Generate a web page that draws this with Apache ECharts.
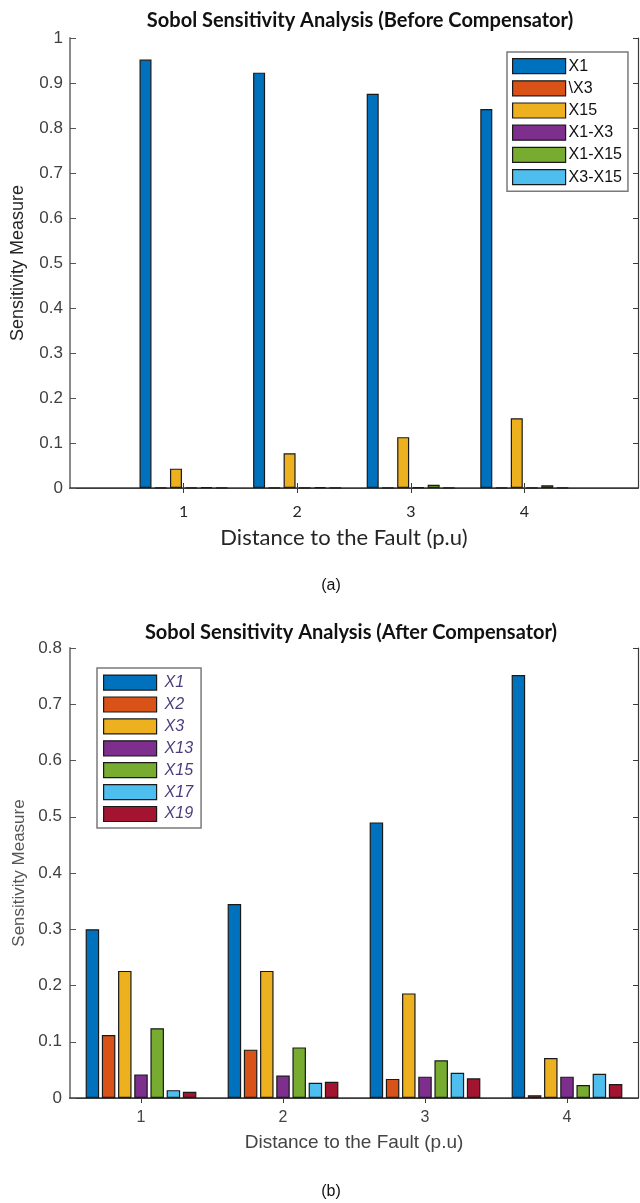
<!DOCTYPE html>
<html><head><meta charset="utf-8">
<script src="https://cdn.jsdelivr.net/npm/echarts@6/dist/echarts.min.js"></script>
<style>html,body{margin:0;padding:0;background:#fff}#c{width:640px;height:1203px}</style>
</head><body><div id="c"></div>
<script>
// ---- Chart (a): Before Compensator ----
const topCats = ['0', '1', '2', '3', '4', '5'];
const topNames = ['X1', '\\X3', 'X15', 'X1-X3', 'X1-X15', 'X3-X15'];
const topX1    = ['-', 0.952, 0.923, 0.876, 0.842, '-'];
const topX3    = ['-', 0.001, 0.001, 0.001, 0.001, '-'];
const topX15   = ['-', 0.043, 0.077, 0.113, 0.155, '-'];
const topX1X3  = ['-', 0.001, 0.001, 0.002, 0.001, '-'];
const topX1X15 = ['-', 0.002, 0.002, 0.007, 0.006, '-'];
const topX3X15 = ['-', 0.001, 0.001, 0.001, 0.001, '-'];
const topTicksShown = ['1', '2', '3', '4'];

// ---- Chart (b): After Compensator ----
const botCats = ['1', '2', '3', '4'];
const botNames = ['X1', 'X2', 'X3', 'X13', 'X15', 'X17', 'X19'];
const botX1  = [0.300, 0.345, 0.490, 0.752];
const botX2  = [0.112, 0.086, 0.034, 0.005];
const botX3  = [0.226, 0.226, 0.186, 0.071];
const botX13 = [0.042, 0.040, 0.038, 0.038];
const botX15 = [0.124, 0.090, 0.067, 0.023];
const botX17 = [0.014, 0.027, 0.045, 0.043];
const botX19 = [0.011, 0.029, 0.035, 0.025];

const topColors = ['#0072BD', '#D95319', '#EDB120', '#7E2F8E', '#77AC30', '#4DBEEE'];
const botColors = ['#0072BD', '#D95319', '#EDB120', '#7E2F8E', '#77AC30', '#4DBEEE', '#A2142F'];

const ARIAL = '"Liberation Sans", Arial, sans-serif';
const CAL = 'Lato, "Open Sans", sans-serif';
const BORDER = '#1a1a1a';

const topData = [topX1, topX3, topX15, topX1X3, topX1X15, topX3X15];
const botData = [botX1, botX2, botX3, botX13, botX15, botX17, botX19];

const chart = echarts.init(document.getElementById('c'), null, {renderer: 'canvas'});

const series = [];
topNames.forEach((n, i) => series.push({
  type: 'bar', name: n, xAxisIndex: 0, yAxisIndex: 0, data: topData[i],
  barWidth: 12, barGap: '27%',
  itemStyle: {color: topColors[i], borderColor: BORDER, borderWidth: 1.2},
  emphasis: {disabled: true}
}));
botNames.forEach((n, i) => series.push({
  type: 'bar', name: n, xAxisIndex: 2, yAxisIndex: 2, data: botData[i],
  barWidth: 13.5, barGap: '20%',
  itemStyle: {color: botColors[i], borderColor: BORDER, borderWidth: 1.2},
  emphasis: {disabled: true}
}));

const shownTop = (idx) => topTicksShown.indexOf(topCats[idx]) >= 0;

const option = {
  animation: false,
  backgroundColor: '#fff',
  title: [
    {text: 'Sobol Sensitivity Analysis (Before Compensator)', left: 360, top: 11, textAlign: 'center', padding: 0,
     textStyle: {fontFamily: CAL, fontWeight: 'bold', fontSize: 20, color: '#111'}},
    {text: '(a)', left: 331, top: 578, textAlign: 'center', padding: 0,
     textStyle: {fontFamily: ARIAL, fontWeight: 'normal', fontSize: 16, color: '#111'}},
    {text: 'Sobol Sensitivity Analysis (After Compensator)', left: 351, top: 623, textAlign: 'center', padding: 0,
     textStyle: {fontFamily: CAL, fontWeight: 'bold', fontSize: 20, color: '#111'}},
    {text: '(b)', left: 331, top: 1184, textAlign: 'center', padding: 0,
     textStyle: {fontFamily: ARIAL, fontWeight: 'normal', fontSize: 16, color: '#111'}}
  ],
  legend: [
    {orient: 'vertical', left: 507, top: 52, padding: [6, 6, 6, 5], itemWidth: 53, itemHeight: 15, itemGap: 6,
     icon: 'rect', backgroundColor: '#fff', borderColor: '#7a7a7a', borderWidth: 1.5, selectedMode: false,
     textStyle: {fontFamily: ARIAL, fontSize: 16, color: '#111', padding: [0, 0, 0, -2]},
     data: topNames.map((n, i) => ({name: n, itemStyle: {color: topColors[i], borderColor: BORDER, borderWidth: 1.2}}))},
    {orient: 'vertical', left: 97, top: 668, padding: [6.5, 8, 6, 6], itemWidth: 53, itemHeight: 15, itemGap: 5.7,
     icon: 'rect', backgroundColor: '#fff', borderColor: '#7a7a7a', borderWidth: 1.5, selectedMode: false,
     textStyle: {fontFamily: ARIAL, fontSize: 16, fontStyle: 'italic', color: '#4b3b7c', padding: [0, 0, 0, 3]},
     data: botNames.map((n, i) => ({name: n, itemStyle: {color: botColors[i], borderColor: BORDER, borderWidth: 1.2}}))}
  ],
  grid: [
    {left: 70, right: 2, top: 38, height: 450, containLabel: false},
    {left: 70, right: 2, top: 648, height: 450, containLabel: false}
  ],
  xAxis: [
    {gridIndex: 0, type: 'category', data: topCats, boundaryGap: false, position: 'bottom',
     name: 'Distance to the Fault (p.u)', nameLocation: 'middle', nameGap: 39,
     nameTextStyle: {fontFamily: CAL, fontSize: 22, color: '#262626', padding: [0, 20, 0, 0]},
     axisLine: {show: true, lineStyle: {color: '#3a3a3a', width: 1.5}},
     axisTick: {show: true, inside: true, length: 5, interval: (idx) => shownTop(idx), lineStyle: {color: '#3a3a3a'}},
     axisLabel: {show: true, interval: (idx) => shownTop(idx), margin: 16, fontFamily: CAL, fontSize: 16, color: '#262626'},
     splitLine: {show: false}},
    {gridIndex: 0, type: 'category', data: topCats, boundaryGap: false, position: 'top',
     axisLine: {show: true, lineStyle: {color: '#3a3a3a', width: 1.2}},
     axisTick: {show: true, inside: true, length: 5, interval: (idx) => shownTop(idx), lineStyle: {color: '#3a3a3a'}},
     axisLabel: {show: false}, splitLine: {show: false}},
    {gridIndex: 1, type: 'category', data: botCats, boundaryGap: true, position: 'bottom',
     name: 'Distance to the Fault (p.u)', nameLocation: 'middle', nameGap: 35,
     nameTextStyle: {fontFamily: ARIAL, fontSize: 19, color: '#444'},
     axisLine: {show: true, lineStyle: {color: '#3a3a3a', width: 1.5}},
     axisTick: {show: true, inside: true, length: 5, alignWithLabel: true, lineStyle: {color: '#3a3a3a'}},
     axisLabel: {show: true, margin: 12, fontFamily: ARIAL, fontSize: 16, color: '#444'},
     splitLine: {show: false}},
    {gridIndex: 1, type: 'category', data: botCats, boundaryGap: true, position: 'top',
     axisLine: {show: true, lineStyle: {color: '#3a3a3a', width: 1.2}},
     axisTick: {show: true, inside: true, length: 5, alignWithLabel: true, lineStyle: {color: '#3a3a3a'}},
     axisLabel: {show: false}, splitLine: {show: false}}
  ],
  yAxis: [
    {gridIndex: 0, type: 'value', min: 0, max: 1, interval: 0.1, position: 'left',
     name: 'Sensitivity Measure', nameLocation: 'middle', nameGap: 43,
     nameTextStyle: {fontFamily: ARIAL, fontSize: 18, color: '#262626'},
     axisLine: {show: true, lineStyle: {color: '#8a8a8a', width: 2}},
     axisTick: {show: true, inside: true, length: 6, lineStyle: {color: '#555'}},
     axisLabel: {margin: 7, fontFamily: ARIAL, fontSize: 17, color: '#404040'},
     splitLine: {show: false}},
    {gridIndex: 0, type: 'value', min: 0, max: 1, interval: 0.1, position: 'right',
     axisLine: {show: true, lineStyle: {color: '#3a3a3a', width: 1.2}},
     axisTick: {show: true, inside: true, length: 5, lineStyle: {color: '#3a3a3a'}},
     axisLabel: {show: false}, splitLine: {show: false}},
    {gridIndex: 1, type: 'value', min: 0, max: 0.8, interval: 0.1, position: 'left',
     name: 'Sensitivity Measure', nameLocation: 'middle', nameGap: 40,
     nameTextStyle: {fontFamily: ARIAL, fontSize: 17, color: '#555'},
     axisLine: {show: true, lineStyle: {color: '#8a8a8a', width: 2}},
     axisTick: {show: true, inside: true, length: 6, lineStyle: {color: '#555'}},
     axisLabel: {margin: 8, fontFamily: ARIAL, fontSize: 17, color: '#404040'},
     splitLine: {show: false}},
    {gridIndex: 1, type: 'value', min: 0, max: 0.8, interval: 0.1, position: 'right',
     axisLine: {show: true, lineStyle: {color: '#3a3a3a', width: 1.2}},
     axisTick: {show: true, inside: true, length: 5, lineStyle: {color: '#3a3a3a'}},
     axisLabel: {show: false}, splitLine: {show: false}}
  ],
  series: series
};
chart.setOption(option);
</script>
</body></html>
